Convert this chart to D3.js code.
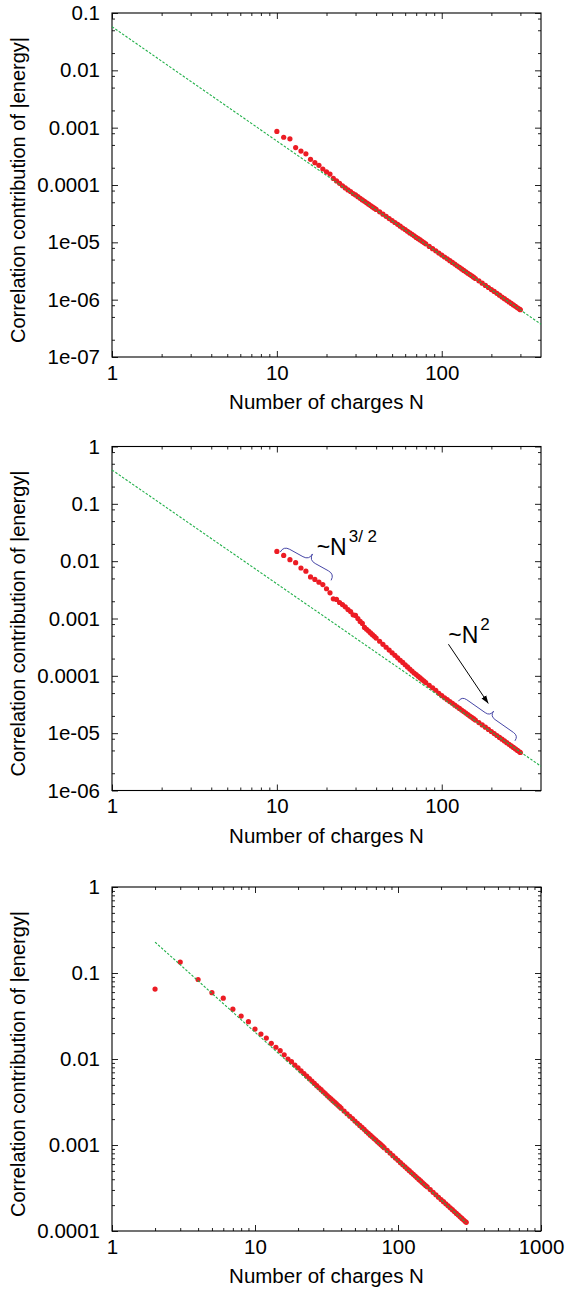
<!DOCTYPE html>
<html>
<head>
<meta charset="utf-8">
<script src="https://cdn.jsdelivr.net/npm/d3@7"></script>
<style>
  html, body { margin: 0; padding: 0; background: #fff; }
  svg text { font-family: "Liberation Sans", Arial, Helvetica, sans-serif; fill: #000; }
</style>
</head>
<body>
<svg id="chart" width="568" height="1295"></svg>
<script>
// Number of charges at which the correlation energy was sampled
const chargesN = [
  10, 11, 12, 13, 14, 15, 16, 17, 18, 19, 20, 21, 22, 23, 24, 25, 26, 27, 28, 29, 30,
  31, 32, 33, 34, 35, 36, 37, 38, 39, 40,
  42, 44, 46, 48, 50, 52, 54, 56, 58, 60, 62, 64, 66, 68, 70, 72, 74, 76, 78, 80,
  84, 88, 92, 96, 100, 104, 108, 112, 116, 120, 124, 128, 132, 136, 140, 144, 148, 152, 156, 160,
  168, 176, 184, 192, 200, 208, 216, 224, 232, 240, 248, 256, 264, 272, 280, 288, 296, 300
];
// extra small systems, only in the last panel
const smallN = [2, 3, 4, 5, 6, 7, 8, 9];

// Panel 1: correlation contribution of |energy|
const corrA = [
  8.6e-4, 6.8e-4, 6.4e-4, 4.5e-4, 3.9e-4, 3.5e-4, 2.8e-4, 2.45e-4, 2.2e-4, 1.9e-4, 1.7e-4,
  1.55e-4, 1.3e-4, 1.18e-4, 1.07e-4, 9.7e-5, 8.9e-5, 8.2e-5, 7.7e-5, 7.1e-5, 6.7e-5,
  6.25e-5, 5.85e-5, 5.5e-5, 5.2e-5, 4.9e-5, 4.63e-5, 4.38e-5, 4.15e-5, 3.95e-5, 3.75e-5,
  3.4e-5, 3.1e-5, 2.84e-5, 2.6e-5, 2.4e-5, 2.22e-5, 2.06e-5, 1.91e-5, 1.78e-5, 1.67e-5,
  1.56e-5, 1.46e-5, 1.38e-5, 1.3e-5, 1.22e-5, 1.16e-5, 1.1e-5, 1.04e-5, 9.9e-6, 9.4e-6,
  8.5e-6, 7.75e-6, 7.1e-6, 6.5e-6, 6.0e-6, 5.55e-6, 5.15e-6, 4.78e-6, 4.46e-6, 4.17e-6,
  3.9e-6, 3.66e-6, 3.44e-6, 3.24e-6, 3.06e-6, 2.89e-6, 2.74e-6, 2.6e-6, 2.47e-6, 2.34e-6,
  2.13e-6, 1.94e-6, 1.77e-6, 1.63e-6, 1.5e-6, 1.39e-6, 1.29e-6, 1.2e-6, 1.11e-6, 1.04e-6,
  9.75e-7, 9.15e-7, 8.6e-7, 8.1e-7, 7.65e-7, 7.23e-7, 6.85e-7, 6.67e-7
];
// Panel 2
const corrB = [
  0.0148, 0.0126, 0.0106, 0.0094, 0.0076, 0.0067, 0.0053, 0.0048, 0.0043, 0.0039, 0.0033,
  0.0028, 0.0022, 0.00215, 0.0019, 0.00175, 0.0016, 0.00143, 0.00132, 0.00116, 0.00113,
  0.0010, 8.9e-4, 8.2e-4, 7.0e-4, 6.5e-4, 6.04e-4, 5.61e-4, 5.22e-4, 4.88e-4, 4.56e-4,
  4.01e-4, 3.55e-4, 3.15e-4, 2.81e-4, 2.52e-4, 2.28e-4, 2.06e-4, 1.87e-4, 1.71e-4, 1.56e-4,
  1.43e-4, 1.31e-4, 1.21e-4, 1.12e-4, 1.05e-4, 9.8e-5, 9.18e-5, 8.6e-5, 8.09e-5, 7.62e-5,
  6.84e-5, 6.18e-5, 5.6e-5, 4.95e-5, 4.5e-5, 4.15e-5, 3.84e-5, 3.56e-5, 3.31e-5, 3.08e-5,
  2.88e-5, 2.7e-5, 2.53e-5, 2.38e-5, 2.24e-5, 2.11e-5, 1.99e-5, 1.89e-5, 1.79e-5, 1.69e-5,
  1.53e-5, 1.39e-5, 1.27e-5, 1.16e-5, 1.07e-5, 9.84e-6, 9.1e-6, 8.44e-6, 7.85e-6, 7.32e-6,
  6.83e-6, 6.4e-6, 6.0e-6, 5.64e-6, 5.31e-6, 5.01e-6, 4.73e-6, 4.6e-6
];
// Panel 3, small systems first
const corrCSmall = [0.065, 0.134, 0.084, 0.059, 0.051, 0.038, 0.0316, 0.0272];
const corrC = [
  0.0223, 0.0195, 0.0175, 0.0152, 0.0137, 0.0125, 0.0112, 0.0100, 0.0093, 0.0085, 0.0079,
  0.00727, 0.00678, 0.00631, 0.0059, 0.00554, 0.0052, 0.0049, 0.00463, 0.0044, 0.00416,
  0.00396, 0.00376, 0.00359, 0.00343, 0.00328, 0.00315, 0.00302, 0.0029, 0.00279, 0.00268,
  0.00248, 0.00231, 0.00216, 0.00203, 0.0019, 0.00179, 0.00169, 0.0016, 0.00152, 0.001436,
  0.00137, 0.0013, 0.001245, 0.00119, 0.00114, 0.00109, 0.00105, 0.00101, 0.00097, 0.00093,
  8.65e-4, 8.05e-4, 7.52e-4, 7.05e-4, 6.63e-4, 6.23e-4, 5.89e-4, 5.58e-4, 5.29e-4, 5.03e-4,
  4.78e-4, 4.56e-4, 4.35e-4, 4.16e-4, 3.98e-4, 3.82e-4, 3.66e-4, 3.52e-4, 3.38e-4, 3.26e-4,
  3.03e-4, 2.82e-4, 2.64e-4, 2.47e-4, 2.32e-4, 2.19e-4, 2.07e-4, 1.96e-4, 1.86e-4, 1.77e-4,
  1.68e-4, 1.6e-4, 1.53e-4, 1.46e-4, 1.4e-4, 1.34e-4, 1.29e-4, 1.26e-4
];

// Power-law fit lines (end points)
const fitAN = [1, 400],  fitAV = [0.0577, 3.73e-7];
const fitBN = [1, 400],  fitBV = [0.39, 2.65e-6];
const fitCN = [2, 300],  fitCV = [0.229, 1.247e-4];

// Axis ticks
const xTicksShort = [1, 10, 100];
const xLabelsShort = ["1", "10", "100"];
const xTicksLong = [1, 10, 100, 1000];
const xLabelsLong = ["1", "10", "100", "1000"];
const yTicksA = [1e-1, 1e-2, 1e-3, 1e-4, 1e-5, 1e-6, 1e-7];
const yLabelsA = ["0.1", "0.01", "0.001", "0.0001", "1e-05", "1e-06", "1e-07"];
const yTicksB = [1, 1e-1, 1e-2, 1e-3, 1e-4, 1e-5, 1e-6];
const yLabelsB = ["1", "0.1", "0.01", "0.001", "0.0001", "1e-05", "1e-06"];
const yTicksC = [1, 1e-1, 1e-2, 1e-3, 1e-4];
const yLabelsC = ["1", "0.1", "0.01", "0.001", "0.0001"];
const minorFull = [2, 3, 4, 5, 6, 7, 8, 9];
const minorSparse = [2, 5, 8];

const xTitle = "Number of charges N";
const yTitle = "Correlation contribution of |energy|";

// Annotation braces / arrow / labels in data coordinates (middle panel)
const braceB = [
  { from: [10.48, 0.01441], to: [21.33, 0.00463], width: 7 },
  { from: [126.2, 3.61e-5], to: [278, 7.35e-6], width: 6 }
];
const arrowB = { from: [109.8, 3.56e-4], to: [191.7, 3.29e-5] };
const labelsB = [
  { at: [17.43, 0.01262], base: "~N", sup: "3/ 2" },
  { at: [109.5, 3.74e-4], base: "~N", sup: "2" }
];

const RED = "#ec1c24", GREEN = "#22b04a", BLUE = "#4646a6";
const left = 112, right = 541, plotH = 344;

const panels = [
  { top: 13,    xDom: [1, 400],  yDom: [1e-7, 0.1], xT: xTicksShort, xL: xLabelsShort,
    yT: yTicksA, yL: yLabelsA, yMinor: minorSparse, n: chargesN, v: corrA, fitN: fitAN, fitV: fitAV },
  { top: 446.5, xDom: [1, 400],  yDom: [1e-6, 1],   xT: xTicksShort, xL: xLabelsShort,
    yT: yTicksB, yL: yLabelsB, yMinor: minorSparse, n: chargesN, v: corrB, fitN: fitBN, fitV: fitBV },
  { top: 887,   xDom: [1, 1000], yDom: [1e-4, 1],   xT: xTicksLong, xL: xLabelsLong,
    yT: yTicksC, yL: yLabelsC, yMinor: minorFull, n: smallN.concat(chargesN), v: corrCSmall.concat(corrC),
    fitN: fitCN, fitV: fitCV }
];

const svg = d3.select("#chart");
const defs = svg.append("defs");
defs.append("marker")
  .attr("id", "head").attr("viewBox", "0 0 10 10")
  .attr("refX", 10).attr("refY", 5)
  .attr("markerWidth", 8).attr("markerHeight", 8)
  .attr("markerUnits", "userSpaceOnUse")
  .attr("orient", "auto")
  .append("path").attr("d", "M0,1.5 L10,5 L0,8.5 Z").attr("fill", "#000");

function minorValues(dom, mults) {
  const out = [];
  for (let e = Math.floor(Math.log10(dom[0])); e <= Math.ceil(Math.log10(dom[1])); e++) {
    mults.forEach(m => {
      const v = m * Math.pow(10, e);
      if (v > dom[0] * 1.0001 && v < dom[1] * 0.9999) out.push(v);
    });
  }
  return out;
}

function bracePath(p1, p2, w) {
  const dx = p2[0] - p1[0], dy = p2[1] - p1[1];
  const L = Math.hypot(dx, dy);
  const ux = dx / L, uy = dy / L, nx = uy, ny = -ux;
  const P = (s, t) => [p1[0] + s * ux + t * nx, p1[1] + s * uy + t * ny];
  const p = d3.path();
  let c, e;
  e = P(0, 0); p.moveTo(e[0], e[1]);
  c = P(0, w); e = P(w, w); p.quadraticCurveTo(c[0], c[1], e[0], e[1]);
  e = P(L / 2 - w, w); p.lineTo(e[0], e[1]);
  c = P(L / 2, w); e = P(L / 2, 2 * w); p.quadraticCurveTo(c[0], c[1], e[0], e[1]);
  c = P(L / 2, w); e = P(L / 2 + w, w); p.quadraticCurveTo(c[0], c[1], e[0], e[1]);
  e = P(L - w, w); p.lineTo(e[0], e[1]);
  c = P(L, w); e = P(L, 0); p.quadraticCurveTo(c[0], c[1], e[0], e[1]);
  return p.toString();
}

panels.forEach((cfg, idx) => {
  const top = cfg.top, bottom = top + plotH;
  const x = d3.scaleLog().domain(cfg.xDom).range([left, right]);
  const y = d3.scaleLog().domain(cfg.yDom).range([bottom, top]);
  const g = svg.append("g");

  const xMinor = minorValues(cfg.xDom, minorFull);
  const yMinor = minorValues(cfg.yDom, cfg.yMinor);
  const strip = s => s.call(a => a.select(".domain").remove());

  // Ticks on all four sides, pointing inward
  g.append("g").attr("transform", `translate(0,${bottom})`)
    .call(d3.axisBottom(x).tickValues(cfg.xT).tickSize(-6).tickPadding(8)
      .tickFormat((d, i) => cfg.xL[i])).call(strip)
    .selectAll("text").attr("font-size", 20.5);
  g.append("g").attr("transform", `translate(0,${bottom})`)
    .call(d3.axisBottom(x).tickValues(xMinor).tickSize(-3).tickFormat("")).call(strip);
  g.append("g").attr("transform", `translate(0,${top})`)
    .call(d3.axisTop(x).tickValues(cfg.xT).tickSize(-6).tickFormat("")).call(strip);
  g.append("g").attr("transform", `translate(0,${top})`)
    .call(d3.axisTop(x).tickValues(xMinor).tickSize(-3).tickFormat("")).call(strip);

  g.append("g").attr("transform", `translate(${left},0)`)
    .call(d3.axisLeft(y).tickValues(cfg.yT).tickSize(-6).tickPadding(12)
      .tickFormat((d, i) => cfg.yL[i])).call(strip)
    .selectAll("text").attr("font-size", 20.5);
  g.append("g").attr("transform", `translate(${left},0)`)
    .call(d3.axisLeft(y).tickValues(yMinor).tickSize(-3).tickFormat("")).call(strip);
  g.append("g").attr("transform", `translate(${right},0)`)
    .call(d3.axisRight(y).tickValues(cfg.yT).tickSize(-6).tickFormat("")).call(strip);
  g.append("g").attr("transform", `translate(${right},0)`)
    .call(d3.axisRight(y).tickValues(yMinor).tickSize(-3).tickFormat("")).call(strip);

  g.selectAll(".tick line").attr("stroke", "#222");

  // Frame
  g.append("rect").attr("x", left).attr("y", top)
    .attr("width", right - left).attr("height", plotH)
    .attr("fill", "none").attr("stroke", "#000").attr("stroke-width", 1.1);

  // Data points
  g.append("g").selectAll("circle")
    .data(cfg.n.map((n, i) => [n, cfg.v[i]]))
    .join("circle")
    .attr("cx", d => x(d[0])).attr("cy", d => y(d[1]))
    .attr("r", 2.6).attr("fill", RED);

  // Fitted power law
  g.append("path")
    .datum(cfg.fitN.map((n, i) => [n, cfg.fitV[i]]))
    .attr("d", d3.line().x(d => x(d[0])).y(d => y(d[1])))
    .attr("fill", "none").attr("stroke", GREEN).attr("stroke-width", 1.1)
    .attr("stroke-dasharray", "2.5,1.6");

  // Axis titles
  g.append("text").attr("x", (left + right) / 2).attr("y", bottom + 52)
    .attr("text-anchor", "middle").attr("font-size", 20.5).text(xTitle);
  g.append("text")
    .attr("transform", `translate(25,${(top + bottom) / 2 + 5}) rotate(-90)`)
    .attr("text-anchor", "middle").attr("font-size", 20).text(yTitle);

  if (idx === 1) {
    braceB.forEach(b => {
      g.append("path")
        .attr("d", bracePath([x(b.from[0]), y(b.from[1])], [x(b.to[0]), y(b.to[1])], b.width))
        .attr("fill", "none").attr("stroke", BLUE).attr("stroke-width", 1);
    });
    g.append("line")
      .attr("x1", x(arrowB.from[0])).attr("y1", y(arrowB.from[1]))
      .attr("x2", x(arrowB.to[0])).attr("y2", y(arrowB.to[1]))
      .attr("stroke", "#000").attr("stroke-width", 1)
      .attr("marker-end", "url(#head)");
    labelsB.forEach(l => {
      const t = g.append("text")
        .attr("x", x(l.at[0])).attr("y", y(l.at[1]))
        .attr("font-size", 23).attr("xml:space", "preserve");
      t.append("tspan").text(l.base);
      t.append("tspan").attr("font-size", 17).attr("dy", -13).attr("dx", 2).text(l.sup);
    });
  }
});
</script>
</body>
</html>
